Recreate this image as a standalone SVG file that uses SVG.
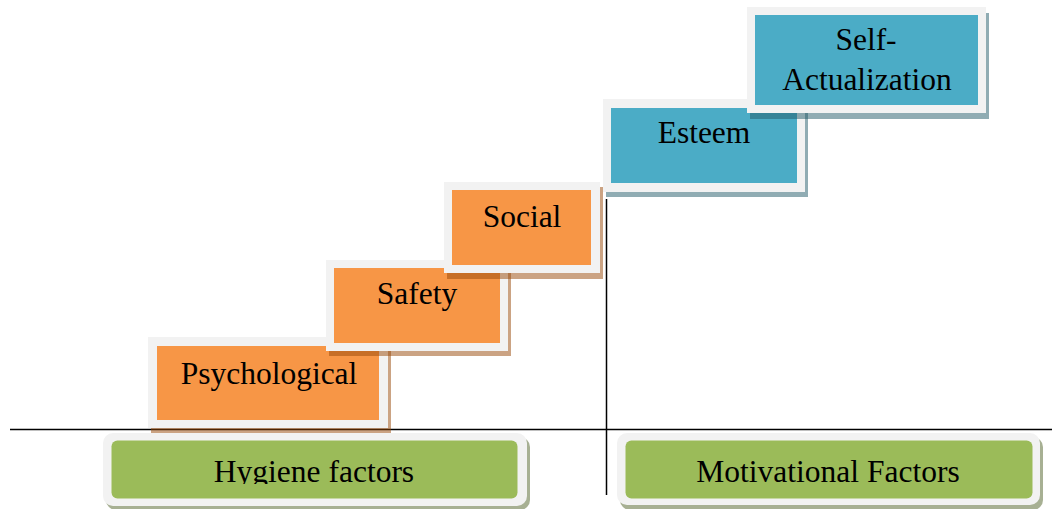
<svg xmlns="http://www.w3.org/2000/svg" width="1052" height="509" viewBox="0 0 1052 509">
<style>
  .frame { fill: #f2f2f2; }
  .org { fill: #f79646; }
  .teal { fill: #4bacc6; }
  .grn { fill: #9bbb59; }
  .sh-org { fill: #984807; fill-opacity: 0.5; }
  .sh-teal { fill: #215968; fill-opacity: 0.5; }
  .sh-grn { fill: #4f6228; fill-opacity: 0.5; }
  .lbl { font-family: "Liberation Serif", "Times New Roman", serif; font-size: 31.5px; fill: #000; text-anchor: middle; }
  .axis { stroke: #000; stroke-width: 1.5; fill: none; }
</style>
<defs>
  <clipPath id="clipBottom"><rect x="0" y="0" width="1052" height="484"/></clipPath>
</defs>
<rect width="1052" height="509" fill="#ffffff"/>

<g id="connectors">
  <line class="axis" x1="10" y1="429.5" x2="1052" y2="429.5"/>
  <line class="axis" x1="606.5" y1="199" x2="606.5" y2="495"/>
</g>

<g id="psychological">
  <rect class="sh-org" x="151" y="342" width="240" height="91"/>
  <rect class="frame" x="148" y="337" width="240" height="91"/>
  <rect class="org" x="157" y="346" width="222" height="74"/>
  <text class="lbl" x="269" y="384">Psychological</text>
</g>

<g id="safety">
  <rect class="sh-org" x="329" y="265" width="182" height="91"/>
  <rect class="frame" x="326" y="260" width="182" height="91"/>
  <rect class="org" x="334" y="268" width="166" height="75"/>
  <text class="lbl" x="417" y="304">Safety</text>
</g>

<g id="social">
  <rect class="sh-org" x="447" y="187" width="156" height="92"/>
  <rect class="frame" x="444" y="182" width="156" height="91"/>
  <rect class="org" x="452" y="190" width="139" height="75"/>
  <text class="lbl" x="522" y="227">Social</text>
</g>

<g id="esteem">
  <rect class="sh-teal" x="606" y="104" width="202" height="93"/>
  <rect class="frame" x="603" y="99" width="202" height="93"/>
  <rect class="teal" x="611" y="108" width="186" height="75"/>
  <text class="lbl" x="704" y="143">Esteem</text>
</g>

<g id="self-actualization">
  <rect class="sh-teal" x="750" y="13" width="239" height="106"/>
  <rect class="frame" x="747" y="7" width="239" height="106"/>
  <rect class="teal" x="755" y="15" width="223" height="90"/>
  <text class="lbl" x="866" y="50">Self-</text>
  <text class="lbl" x="867" y="90">Actualization</text>
</g>

<g id="hygiene-factors">
  <rect class="sh-grn" x="106" y="437" width="424" height="73" rx="10"/>
  <rect class="frame" x="103" y="433" width="424" height="73" rx="10"/>
  <rect class="grn" x="111.5" y="440.5" width="406" height="58" rx="6"/>
  <text class="lbl" x="314" y="482" clip-path="url(#clipBottom)">Hygiene factors</text>
</g>

<g id="motivational-factors">
  <rect class="sh-grn" x="620" y="437" width="423" height="73" rx="10"/>
  <rect class="frame" x="617" y="433" width="423" height="72" rx="10"/>
  <rect class="grn" x="625.5" y="440.5" width="407" height="58" rx="6"/>
  <text class="lbl" x="828" y="482" clip-path="url(#clipBottom)">Motivational Factors</text>
</g>
</svg>
